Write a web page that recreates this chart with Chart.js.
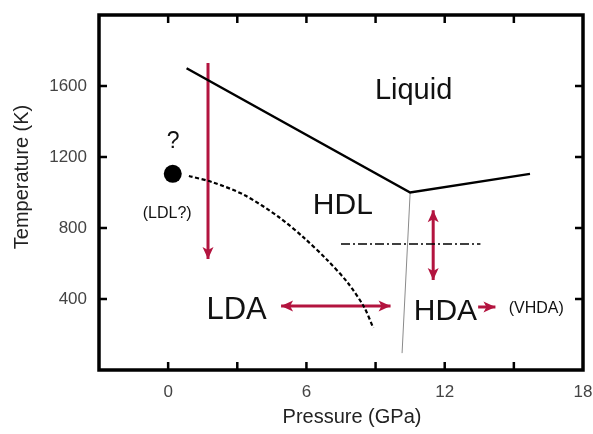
<!DOCTYPE html>
<html>
<head>
	<meta charset="utf-8">
	<script type="text/javascript" src="https://cdn.jsdelivr.net/npm/chart.js@4/dist/chart.umd.min.js"></script>
	<style type="text/css">
	html, body{
		margin: 0;
		padding: 0;
		background: #fff;
	}
	#canvas-holder{
		width: 593px;
		height: 434px;
	}
	</style>
</head>
<body>
	<div id="canvas-holder">
		<canvas id="chart-area"></canvas>
	</div>

	<script>

	// axis ticks
	var pressureTicks = [0, 3, 6, 9, 12, 15];
	var tempTicks = [400, 800, 1200, 1600];

	// melting line (solid)
	var meltP = [0.8, 10.5, 15.7];
	var meltT = [1700, 1000, 1105];

	// LDA/HDA boundary (thin)
	var boundP = [10.5, 10.15];
	var boundT = [1000, 95];

	// LDL/HDL line (dashed)
	var ldlP = [0.9, 1.9, 3.3, 4.8, 5.9, 6.9, 7.8, 8.5, 8.9];
	var ldlT = [1093, 1059, 986, 862, 744, 620, 490, 355, 237];

	// critical point
	var critP = [0.2];
	var critT = [1105];

	// dash-dot isotherm
	var isoP = [7.5, 13.55];
	var isoT = [710, 710];

	// arrows
	var quenchP = [1.73, 1.73];
	var quenchT = [1730, 625];
	var compP = [4.9, 9.65];
	var compT = [360, 360];
	var heatP = [11.5, 11.5];
	var heatT = [900, 507];
	var vhdaP = [13.45, 14.2];
	var vhdaT = [355, 355];

	var labels = [
		{text: 'Liquid', x: 10.65, y: 1527, size: 29},
		{text: 'HDL', x: 7.58, y: 879, size: 30},
		{text: 'LDA', x: 2.97, y: 287, size: 31},
		{text: 'HDA', x: 12.03, y: 282, size: 30},
		{text: '(VHDA)', x: 15.97, y: 321, size: 16},
		{text: '?', x: 0.22, y: 1251, size: 23},
		{text: '(LDL?)', x: -0.04, y: 856, size: 16}
	];

	var arrowRed = '#b3143f';
	var fontFamily = '"Liberation Sans", Arial, Helvetica, sans-serif';

	function pts(px, py) {
		var out = [];
		for (var i = 0; i < px.length; i++) {
			out.push({x: px[i], y: py[i]});
		}
		return out;
	}

	function line(data, color, width, extra) {
		var ds = {
			data: data,
			showLine: true,
			borderColor: color,
			backgroundColor: color,
			borderWidth: width,
			pointRadius: 0,
			fill: false
		};
		for (var k in extra) ds[k] = extra[k];
		return ds;
	}

	function drawHead(ctx, from, tip, color) {
		var ang = Math.atan2(tip.y - from.y, tip.x - from.x);
		var len = 12, half = 5.5;
		ctx.save();
		ctx.translate(tip.x, tip.y);
		ctx.rotate(ang);
		ctx.fillStyle = color;
		ctx.beginPath();
		ctx.moveTo(0, 0);
		ctx.lineTo(-len, -half);
		ctx.lineTo(-len + 3, 0);
		ctx.lineTo(-len, half);
		ctx.closePath();
		ctx.fill();
		ctx.restore();
	}

	var decorations = {
		id: 'decorations',
		afterDatasetsDraw: function(chart) {
			var ctx = chart.ctx;
			var xs = chart.scales.x, ys = chart.scales.y;
			var a = chart.chartArea;

			// arrowheads
			chart.data.datasets.forEach(function(ds, i) {
				if (!ds.arrow) return;
				var m = chart.getDatasetMeta(i).data;
				var p0 = {x: m[0].x, y: m[0].y};
				var p1 = {x: m[m.length - 1].x, y: m[m.length - 1].y};
				drawHead(ctx, p0, p1, ds.borderColor);
				if (ds.arrow === 'both') drawHead(ctx, p1, p0, ds.borderColor);
			});

			// frame
			ctx.save();
			ctx.strokeStyle = '#000';
			ctx.lineWidth = 3.5;
			ctx.strokeRect(a.left, a.top, a.right - a.left, a.bottom - a.top);

			// inward tick marks
			ctx.lineWidth = 2.5;
			ctx.beginPath();
			pressureTicks.forEach(function(v) {
				var px = xs.getPixelForValue(v);
				ctx.moveTo(px, a.bottom); ctx.lineTo(px, a.bottom - 8);
				ctx.moveTo(px, a.top); ctx.lineTo(px, a.top + 8);
			});
			tempTicks.forEach(function(v) {
				var py = ys.getPixelForValue(v);
				ctx.moveTo(a.left, py); ctx.lineTo(a.left + 8, py);
				ctx.moveTo(a.right, py); ctx.lineTo(a.right - 8, py);
			});
			ctx.stroke();

			// region labels
			ctx.fillStyle = '#111';
			ctx.textAlign = 'center';
			ctx.textBaseline = 'alphabetic';
			labels.forEach(function(l) {
				ctx.font = l.size + 'px ' + fontFamily;
				ctx.fillText(l.text, xs.getPixelForValue(l.x), ys.getPixelForValue(l.y));
			});

			// axis titles
			ctx.fillStyle = '#222';
			ctx.font = '20px ' + fontFamily;
			ctx.textBaseline = 'middle';
			ctx.fillText('Pressure (GPa)', 352, 417);
			ctx.translate(22, 177);
			ctx.rotate(-Math.PI / 2);
			ctx.fillText('Temperature (K)', 0, 0);
			ctx.restore();
		}
	};

	var config = {
		type: 'scatter',
		data: {
			datasets: [
				line(pts(meltP, meltT), '#000', 2.5),
				line(pts(boundP, boundT), '#8a8a8a', 1),
				line(pts(ldlP, ldlT), '#000', 2.2, {borderDash: [4, 2.5], tension: 0.3}),
				line(pts(isoP, isoT), '#000', 1.5, {borderDash: [9, 3, 2, 3]}),
				line(pts(quenchP, quenchT), arrowRed, 3, {arrow: 'end'}),
				line(pts(compP, compT), arrowRed, 3, {arrow: 'both'}),
				line(pts(heatP, heatT), arrowRed, 3, {arrow: 'both'}),
				line(pts(vhdaP, vhdaT), arrowRed, 3, {arrow: 'end'}),
				{
					data: pts(critP, critT),
					pointRadius: 9,
					pointBackgroundColor: '#000',
					pointBorderWidth: 0,
					showLine: false
				}
			]
		},
		options: {
			responsive: false,
			animation: false,
			devicePixelRatio: 1,
			layout: {
				padding: {top: 15, right: 10, left: 0, bottom: 0}
			},
			plugins: {
				legend: {display: false},
				tooltip: {enabled: false}
			},
			scales: {
				x: {
					type: 'linear',
					min: -3,
					max: 18,
					afterFit: function(s) {
						s.height = 64;
						s.paddingLeft = 0;
						s.paddingRight = 0;
					},
					grid: {display: false, drawTicks: false},
					border: {display: false},
					ticks: {
						stepSize: 3,
						autoSkip: false,
						maxRotation: 0,
						padding: 12,
						color: '#444',
						font: {family: fontFamily, size: 17},
						callback: function(v) { return (v >= 0 && v % 6 === 0) ? v : ''; }
					}
				},
				y: {
					type: 'linear',
					min: 0,
					max: 2000,
					afterFit: function(s) {
						s.width = 99;
						s.paddingTop = 0;
						s.paddingBottom = 0;
					},
					grid: {display: false, drawTicks: false},
					border: {display: false},
					ticks: {
						stepSize: 400,
						autoSkip: false,
						padding: 12,
						color: '#444',
						font: {family: fontFamily, size: 17},
						callback: function(v) { return (v > 0 && v < 2000) ? v : ''; }
					}
				}
			}
		},
		plugins: [decorations]
	};

	window.onload = function() {
		var canvas = document.getElementById('chart-area');
		canvas.width = 593;
		canvas.height = 434;
		new Chart(canvas.getContext('2d'), config);
	};

	</script>
</body>
</html>
